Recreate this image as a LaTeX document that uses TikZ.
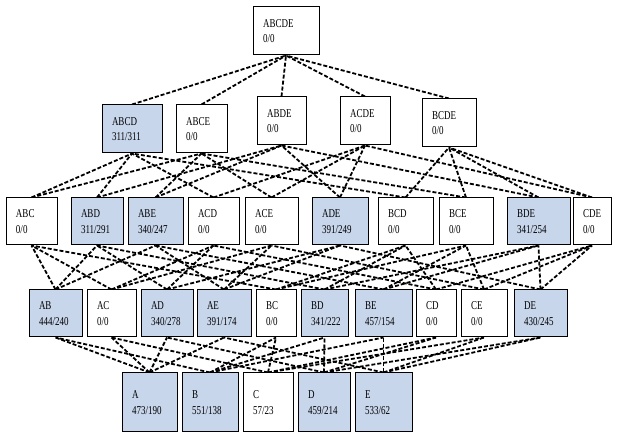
\documentclass[tikz,border=0pt]{standalone}
\usepackage{fontspec}
\usetikzlibrary{backgrounds}
\setmainfont[FakeStretch=0.75]{Liberation Serif}
\definecolor{bl}{RGB}{200,214,236}
\tikzset{
  box/.style={draw=black,line width=1pt,rectangle,inner xsep=10pt,inner ysep=0pt,align=left,
    font=\fontsize{12}{15.5}\selectfont},
  edge/.style={line width=1.8pt,dash pattern=on 4pt off 2pt,black}
}
\newcommand\bx[8]{%
  \pgfmathsetmacro\bw{#3-#2}\pgfmathsetmacro\bh{#5-#4}\pgfmathsetmacro\tw{#3-#2-20}%
  \node[box,fill=#8,minimum width=\bw pt,minimum height=\bh pt,text width=\tw pt] (#1) at ({(#2+#3)/2},{(#4+#5)/2}) {#6\\#7};}
\begin{document}
\begin{tikzpicture}[x=1pt,y=-1pt]
\useasboundingbox (0,0) rectangle (619,435);
% top
\bx{ABCDE}{253}{319}{7}{55}{ABCDE}{0/0}{white}
% level 4
\bx{ABCD}{102}{162}{105}{153}{ABCD}{311/311}{bl}
\bx{ABCE}{176}{227}{105}{153}{ABCE}{0/0}{white}
\bx{ABDE}{257}{306}{97}{145}{ABDE}{0/0}{white}
\bx{ACDE}{340}{390}{97}{145}{ACDE}{0/0}{white}
\bx{BCDE}{422}{476}{99}{147}{BCDE}{0/0}{white}
% level 3
\bx{ABC}{6}{57}{198}{245}{ABC}{0/0}{white}
\bx{ABD}{71}{123}{198}{245}{ABD}{311/291}{bl}
\bx{ABE}{128}{183}{198}{245}{ABE}{340/247}{bl}
\bx{ACD}{188}{239}{198}{245}{ACD}{0/0}{white}
\bx{ACE}{245}{298}{198}{245}{ACE}{0/0}{white}
\bx{ADE}{312}{368}{198}{245}{ADE}{391/249}{bl}
\bx{BCD}{378}{433}{198}{245}{BCD}{0/0}{white}
\bx{BCE}{439}{493}{198}{245}{BCE}{0/0}{white}
\bx{BDE}{507}{570}{198}{245}{BDE}{341/254}{bl}
\bx{CDE}{573}{611}{198}{245}{CDE}{0/0}{white}
% level 2
\bx{AB}{29}{82}{290}{337}{AB}{444/240}{bl}
\bx{AC}{87}{136}{290}{337}{AC}{0/0}{white}
\bx{AD}{141}{193}{290}{337}{AD}{340/278}{bl}
\bx{AE}{197}{251}{290}{337}{AE}{391/174}{bl}
\bx{BC}{256}{296}{290}{337}{BC}{0/0}{white}
\bx{BD}{301}{348}{290}{337}{BD}{341/222}{bl}
\bx{BE}{355}{412}{290}{337}{BE}{457/154}{bl}
\bx{CD}{416}{456}{290}{337}{CD}{0/0}{white}
\bx{CE}{461}{507}{290}{337}{CE}{0/0}{white}
\bx{DE}{514}{567}{290}{337}{DE}{430/245}{bl}
% level 1
\bx{A}{122}{177}{373}{432}{A}{473/190}{bl}
\bx{B}{182}{238}{373}{432}{B}{551/138}{bl}
\bx{C}{243}{293}{373}{432}{C}{57/23}{white}
\bx{D}{298}{350}{373}{432}{D}{459/214}{bl}
\bx{E}{355}{412}{373}{432}{E}{533/62}{bl}
% edges
\begin{pgfonlayer}{background}
\foreach \u/\l in {ABCDE/ABCD,ABCDE/ABCE,ABCDE/ABDE,ABCDE/ACDE,ABCDE/BCDE,
  ABCD/ABC,ABCD/ABD,ABCD/ACD,ABCD/BCD,
  ABCE/ABC,ABCE/ABE,ABCE/ACE,ABCE/BCE,
  ABDE/ABD,ABDE/ABE,ABDE/ADE,ABDE/BDE,
  ACDE/ACD,ACDE/ACE,ACDE/ADE,ACDE/CDE,
  BCDE/BCD,BCDE/BCE,BCDE/BDE,BCDE/CDE,
  ABC/AB,ABC/AC,ABC/BC, ABD/AB,ABD/AD,ABD/BD, ABE/AB,ABE/AE,ABE/BE,
  ACD/AC,ACD/AD,ACD/CD, ACE/AC,ACE/AE,ACE/CE, ADE/AD,ADE/AE,ADE/DE,
  BCD/BC,BCD/BD,BCD/CD, BCE/BC,BCE/BE,BCE/CE, BDE/BD,BDE/BE,BDE/DE,
  CDE/CD,CDE/CE,CDE/DE,
  AB/A,AB/B,AC/A,AC/C,AD/A,AD/D,AE/A,AE/E,BC/B,BC/C,BD/B,BD/D,BE/B,BE/E,
  CD/C,CD/D,CE/C,CE/E,DE/D,DE/E}
  \draw[edge] (\l.north) -- (\u.south);
\end{pgfonlayer}
\end{tikzpicture}
\end{document}
